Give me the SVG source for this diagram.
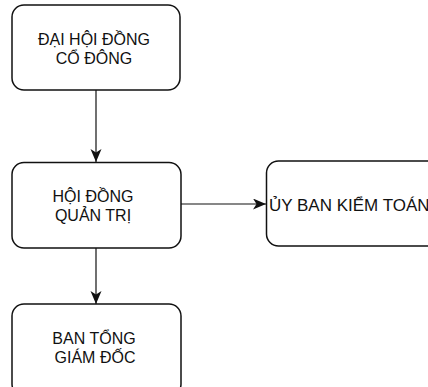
<svg xmlns="http://www.w3.org/2000/svg" width="428" height="387" viewBox="0 0 428 387">
<style>
.box{fill:#fff;stroke:#111;stroke-width:1.5}
.lbl{font-family:"Liberation Sans",Arial,sans-serif;font-size:16px;fill:#111;text-anchor:middle}
.lbl2{font-family:"Liberation Sans",Arial,sans-serif;font-size:17px;fill:#111}
.conn{stroke:#111;stroke-width:1.2;fill:none}
</style>
<defs>
<marker id="arr" markerUnits="userSpaceOnUse" markerWidth="14" markerHeight="12" refX="13" refY="5.5" orient="auto">
<path d="M0,0 L13,5.5 L0,11 L3.5,5.5 z" fill="#111"/>
</marker>
</defs>
<rect width="428" height="387" fill="#fff"/>
<g id="connectors">
<line class="conn" x1="96" y1="90" x2="96" y2="162" marker-end="url(#arr)"/>
<line class="conn" x1="181" y1="204" x2="266" y2="204" marker-end="url(#arr)"/>
<line class="conn" x1="96" y1="248" x2="96" y2="304" marker-end="url(#arr)"/>
</g>
<g id="dai-hoi-dong-co-dong">
<rect class="box" x="12" y="5" width="168" height="85" rx="12"/>
<text class="lbl" x="94" y="45">ĐẠI HỘI ĐỒNG</text>
<text class="lbl" x="94" y="63.5">CỔ ĐÔNG</text>
</g>
<g id="hoi-dong-quan-tri">
<rect class="box" x="12" y="162.5" width="169" height="85.5" rx="12"/>
<text class="lbl" x="93" y="201.5">HỘI ĐỒNG</text>
<text class="lbl" x="93" y="220.5">QUẢN TRỊ</text>
</g>
<g id="uy-ban-kiem-toan">
<rect class="box" x="266.5" y="161" width="180" height="85" rx="12"/>
<text class="lbl2" x="269" y="211">ỦY BAN KIỂM TOÁN</text>
</g>
<g id="ban-tong-giam-doc">
<rect class="box" x="12" y="304" width="169" height="92" rx="12"/>
<text class="lbl" x="94" y="343.5">BAN TỔNG</text>
<text class="lbl" x="95" y="363">GIÁM ĐỐC</text>
</g>
</svg>
